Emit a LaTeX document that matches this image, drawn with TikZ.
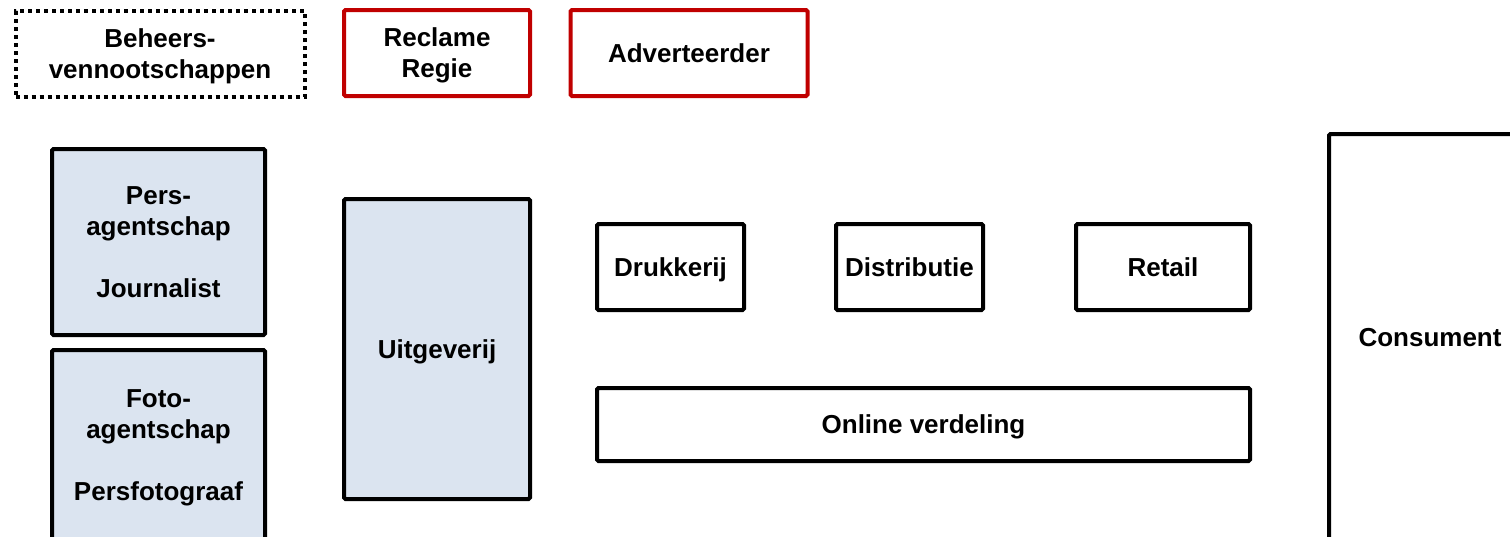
\documentclass[tikz,border=0pt]{standalone}
\usepackage{fontspec}
\setmainfont{Liberation Sans}
\definecolor{boxred}{HTML}{C00000}
\definecolor{boxblue}{HTML}{DBE4F0}
\begin{document}
\begin{tikzpicture}[x=1pt,y=-1pt,
  every node/.style={inner sep=0pt,align=center,text depth=0pt,
    font=\fontsize{26}{31}\selectfont\bfseries},
  blk/.style={draw=black,line width=4pt,rounded corners=1.5pt,fill=white},
  redbox/.style={blk,draw=boxred},
  bluebox/.style={blk,fill=boxblue},
  dotbox/.style={draw=black,line width=4pt,line cap=butt,dash pattern=on 4pt off 4pt}]
\useasboundingbox (0,0) rectangle (1510,536);
\clip (0,0) rectangle (1510,536);
% top row: holding companies, ad sales, advertiser
\node[dotbox,minimum width=289pt,minimum height=86pt] (beh) at (160,54) {Beheers-\\vennootschappen};
\node[redbox,minimum width=186pt,minimum height=86pt] (reg) at (437,53) {Reclame\\Regie};
\node[redbox,minimum width=237pt,minimum height=86pt] (adv) at (689,53) {Adverteerder};
% content sources
\node[bluebox,minimum width=213pt,minimum height=186pt] (pers) at (158.5,242) {Pers-\\agentschap\\\strut\\Journalist};
\node[bluebox,minimum width=213pt,minimum height=190pt] (foto) at (158.5,445) {Foto-\\agentschap\\\strut\\Persfotograaf};
% publisher
\node[bluebox,minimum width=186pt,minimum height=300pt] (uitg) at (437,349) {Uitgeverij};
% print chain
\node[blk,minimum width=147pt,minimum height=86pt] (druk) at (670.5,267) {Drukkerij};
\node[blk,minimum width=147pt,minimum height=86pt] (distr) at (909.5,267) {Distributie};
\node[blk,minimum width=174pt,minimum height=86pt] (retail) at (1163,267) {Retail};
% online channel
\node[blk,minimum width=653pt,minimum height=73pt] (online) at (923.5,424.5) {Online verdeling};
% consumer
\node[blk,minimum width=202pt,minimum height=406pt] (cons) at (1430,337) {Consument};
\end{tikzpicture}
\end{document}
